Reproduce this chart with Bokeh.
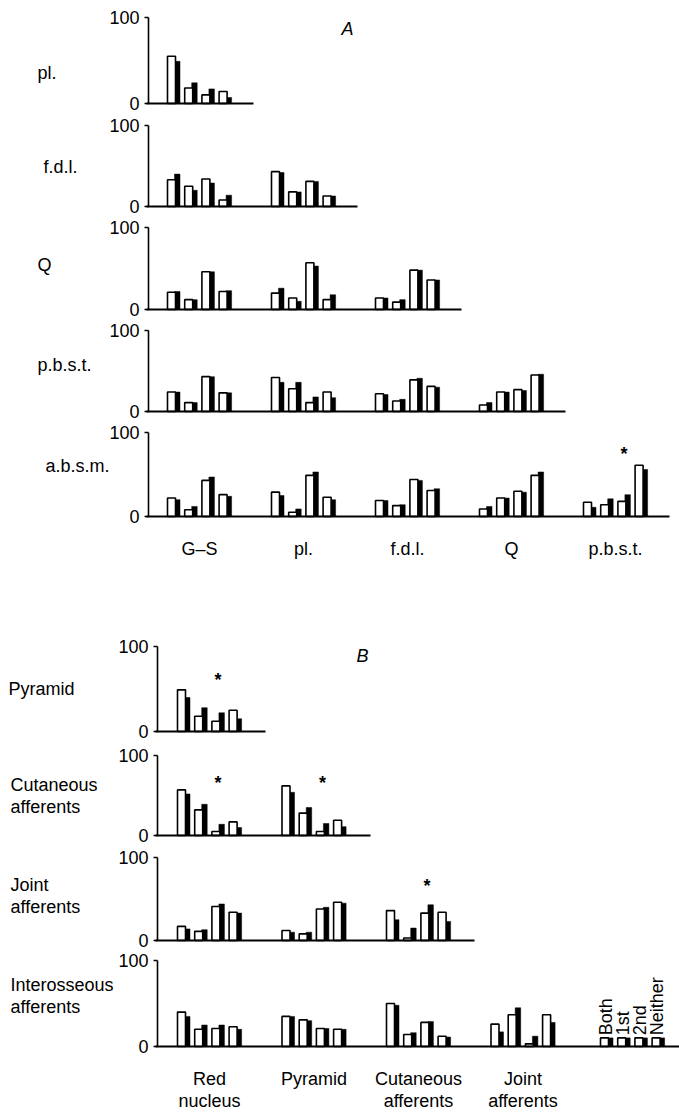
import numpy as np
from bokeh.plotting import figure
from bokeh.layouts import column
from bokeh.models import FixedTicker, Range1d
from bokeh.core.properties import value
from bokeh.embed import file_html
from bokeh.resources import INLINE

# ---------------- data (percent of units) ----------------
a_categories = ["G–S", "pl.", "f.d.l.", "Q", "p.b.s.t."]
a_rows = ["pl.", "f.d.l.", "Q", "p.b.s.t.", "a.b.s.m."]

pl_open = [[55, 18, 10, 14]]
pl_filled = [[49, 24, 17, 7]]
fdl_open = [[33, 25, 34, 8], [43, 18, 31, 13]]
fdl_filled = [[40, 20, 29, 14], [42, 18, 31, 13]]
q_open = [[21, 12, 46, 22], [20, 14, 57, 12], [14, 9, 48, 36]]
q_filled = [[22, 12, 46, 23], [26, 10, 53, 18], [14, 12, 48, 36]]
pbst_open = [[24, 11, 43, 23], [42, 28, 11, 24], [22, 13, 39, 31], [8, 24, 27, 45]]
pbst_filled = [[24, 11, 43, 23], [36, 36, 18, 17], [21, 15, 41, 30], [11, 24, 26, 46]]
absm_open = [[22, 8, 43, 26], [29, 5, 49, 23], [19, 13, 44, 31], [9, 22, 30, 49], [17, 14, 18, 61]]
absm_filled = [[20, 12, 47, 24], [25, 9, 53, 20], [19, 14, 43, 33], [12, 22, 29, 53], [11, 21, 26, 56]]

b_categories = ["Red\nnucleus", "Pyramid", "Cutaneous\nafferents", "Joint\nafferents"]
b_rows = ["Pyramid", "Cutaneous\nafferents", "Joint\nafferents", "Interosseous\nafferents"]
pyr_open = [[49, 18, 12, 25]]
pyr_filled = [[40, 28, 22, 15]]
cut_open = [[57, 32, 5, 17], [62, 28, 5, 19]]
cut_filled = [[52, 39, 14, 10], [54, 35, 15, 11]]
joint_open = [[17, 11, 41, 34], [12, 8, 38, 46], [36, 3, 33, 34]]
joint_filled = [[14, 13, 44, 33], [10, 10, 40, 45], [25, 15, 43, 23]]
inter_open = [[40, 20, 21, 23], [35, 31, 21, 20], [50, 14, 28, 12], [26, 37, 3, 37]]
inter_filled = [[35, 25, 25, 20], [35, 30, 21, 20], [48, 16, 29, 11], [17, 45, 12, 28]]

legend_labels = ["Both", "1st", "2nd", "Neither"]
legend_values = [10, 10, 10, 10]

# significance stars: (group index, pair index, height)
a_stars = [[], [], [], [], [(4, 2, 74)]]
b_stars = [[(0, 2, 61)], [(0, 2, 66), (1, 2, 66)], [(2, 2, 66)], []]

# ---------------- layout ----------------
W = 679
FONT = "Liberation Sans"
PAIR = 17.2
OPEN_W = 8
BLK_L, BLK_R = 7.0, 12.5


def build_row(slot_top, slot_h, top_px, base_px, axis_x, x0, dx, base_end,
              opens, fills, label, label_x, label_py, stars):
    k = 100.0 / (base_px - top_px)

    def v(py):
        return (base_px - py) * k

    p = figure(width=W, height=slot_h, x_range=Range1d(0, W),
               y_range=Range1d(v(slot_top + slot_h), v(slot_top)),
               min_border=0, toolbar_location=None, output_backend="svg",
               title=None)
    p.xgrid.visible = False
    p.ygrid.visible = False
    p.outline_line_color = None
    p.background_fill_color = "white"
    p.border_fill_color = "white"

    yax = p.yaxis[0]
    yax.fixed_location = axis_x
    yax.ticker = FixedTicker(ticks=[0, 100])
    yax.bounds = (0, 100)
    yax.major_tick_out = 4
    yax.major_tick_in = 0
    yax.minor_tick_out = 0
    yax.minor_tick_in = 0
    yax.axis_line_width = 1.6
    yax.major_tick_line_width = 1.6
    yax.major_label_standoff = 5
    yax.major_label_text_font = FONT
    yax.major_label_text_font_size = "18px"
    yax.major_label_text_color = "black"

    xax = p.xaxis[0]
    xax.fixed_location = 0
    xax.bounds = (axis_x - 2, base_end)
    xax.ticker = FixedTicker(ticks=[])
    xax.major_label_text_font_size = "0px"
    xax.axis_line_width = 2.2
    xax.major_tick_out = 0
    xax.minor_tick_out = 0

    lefts, ot, ft = [], [], []
    for g, (og, fg) in enumerate(zip(opens, fills)):
        for j, (o, f) in enumerate(zip(og, fg)):
            lefts.append(x0 + g * dx + j * PAIR)
            ot.append(o)
            ft.append(f)
    lefts = np.array(lefts)
    p.quad(left=lefts + BLK_L, right=lefts + BLK_R, bottom=0, top=ft,
           fill_color="black", line_color="black", line_width=0.5)
    p.quad(left=lefts, right=lefts + OPEN_W, bottom=0, top=ot,
           fill_color="white", line_color="black", line_width=1.6)

    p.text(x=[label_x], y=[v(label_py)], text=[label], text_font=value(FONT),
           text_font_size="18px", text_align="left", text_baseline="middle",
           text_color="black", text_line_height=1.1)

    if stars:
        sx = [x0 + g * dx + j * PAIR + 6 for g, j, h in stars]
        sy = [h for g, j, h in stars]
        p.text(x=sx, y=sy, text=["*"] * len(stars), text_font=value(FONT),
               text_font_size="18px", text_font_style="bold", text_align="center",
               text_baseline="middle", text_color="black")
    return p, v


figs = []

# ---- Panel A ----
A_AXIS, A_X0, A_DX = 148, 167, 104
a_slots = [  # slot_top, slot_h, top_px, base_px, label_x, label_py
    (0, 115, 17, 103, 37, 72),
    (115, 102, 125, 206, 43, 166),
    (217, 103, 227, 309, 37, 264),
    (320, 102, 330, 411, 37, 364),
    (422, 168, 432, 516, 45, 465),
]
a_open_rows = [pl_open, fdl_open, q_open, pbst_open, absm_open]
a_fill_rows = [pl_filled, fdl_filled, q_filled, pbst_filled, absm_filled]
for i, (st, sh, tp, bp, lx, ly) in enumerate(a_slots):
    n = len(a_open_rows[i])
    base_end = A_X0 + (n - 1) * A_DX + 86
    p, v = build_row(st, sh, tp, bp, A_AXIS, A_X0, A_DX, base_end,
                     a_open_rows[i], a_fill_rows[i], a_rows[i], lx, ly, a_stars[i])
    if i == 0:
        p.text(x=[347], y=[v(28)], text=["A"], text_font=value(FONT),
               text_font_size="18px", text_font_style="italic", text_align="center",
               text_baseline="middle", text_color="black")
    if i == 4:
        cx = [A_X0 + g * A_DX + 32 for g in range(len(a_categories))]
        p.text(x=cx, y=[v(548)] * len(cx), text=a_categories, text_font=value(FONT),
               text_font_size="18px", text_align="center", text_baseline="middle",
               text_color="black")
    figs.append(p)

# ---- Panel B ----
B_AXIS, B_X0, B_DX = 157, 177, 104.5
LEG_X0 = 600
b_slots = [
    (590, 155, 646, 731, 8, 688),
    (745, 103, 755, 835, 10, 795),
    (848, 102, 857, 940, 10, 895),
    (950, 163, 960, 1046, 10, 995),
]
b_open_rows = [pyr_open, cut_open, joint_open, inter_open]
b_fill_rows = [pyr_filled, cut_filled, joint_filled, inter_filled]
for i, (st, sh, tp, bp, lx, ly) in enumerate(b_slots):
    n = len(b_open_rows[i])
    base_end = B_X0 + (n - 1) * B_DX + 88 if i < 3 else W
    p, v = build_row(st, sh, tp, bp, B_AXIS, B_X0, B_DX, base_end,
                     b_open_rows[i], b_fill_rows[i], b_rows[i], lx, ly, b_stars[i])
    if i == 0:
        p.text(x=[362], y=[v(655)], text=["B"], text_font=value(FONT),
               text_font_size="18px", text_font_style="italic", text_align="center",
               text_baseline="middle", text_color="black")
    if i == 3:
        lx0 = np.array([LEG_X0 + j * PAIR for j in range(len(legend_labels))])
        p.quad(left=lx0 + BLK_L, right=lx0 + BLK_R, bottom=0, top=legend_values,
               fill_color="black", line_color="black", line_width=0.5)
        p.quad(left=lx0, right=lx0 + OPEN_W, bottom=0, top=legend_values,
               fill_color="white", line_color="black", line_width=1.6)
        p.text(x=lx0 + 5, y=[h + 3 for h in legend_values], text=legend_labels,
               angle=np.pi / 2, text_font=value(FONT), text_font_size="18px",
               text_align="left", text_baseline="middle", text_color="black")
        cx = [B_X0 + g * B_DX + 32 for g in range(len(b_categories))]
        p.text(x=cx, y=[v(1068)] * len(cx), text=b_categories, text_font=value(FONT),
               text_font_size="18px", text_align="center", text_baseline="top",
               text_color="black", text_line_height=1.1)
    figs.append(p)

layout = column(*figs, spacing=0)
open("out.html", "w").write(file_html(layout, INLINE))
